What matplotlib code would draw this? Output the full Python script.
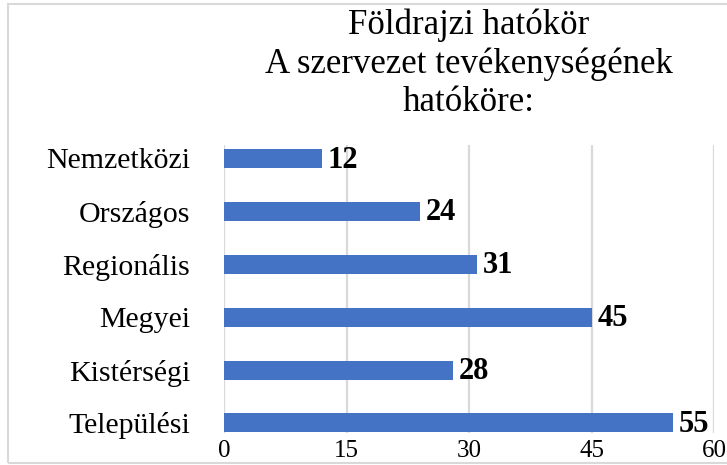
import matplotlib.pyplot as plt
from matplotlib.patches import Rectangle

categories = ['Települési', 'Kistérségi', 'Megyei', 'Regionális', 'Országos', 'Nemzetközi']
values = [55, 28, 45, 31, 24, 12]
xticks = [0, 15, 30, 45, 60]
title = 'Földrajzi hatókör\nA szervezet tevékenységének\nhatóköre:'

plt.rcParams['font.family'] = ['Liberation Serif', 'DejaVu Serif']

fig = plt.figure(figsize=(7.27, 4.65), dpi=100)
ax = fig.add_axes([224 / 727, 32 / 465, 490 / 727, 288 / 465])

ypos = range(len(categories))
ax.barh(ypos, values, height=0.36, color='#4472C4', zorder=3)
for y, v in zip(ypos, values):
    ax.text(v + 0.7, y - 0.03, str(v), va='center', ha='left',
            fontsize=22, fontweight='bold', zorder=4)

ax.set_xlim(0, 60)
ax.set_ylim(-0.19, 5.255)
ax.set_xticks(xticks)
ax.set_yticks(list(ypos))
ax.set_yticklabels(categories, fontsize=21.5)
ax.tick_params(axis='x', labelsize=18, length=0, pad=5)
ax.tick_params(axis='y', length=0, pad=24.5)
ax.grid(axis='x', color='#D9D9D9', linewidth=1.6, zorder=0)
for s in ax.spines.values():
    s.set_visible(False)

fig.text(469 / 727, 1 - 64 / 465, title, ha='center', va='center',
         fontsize=25, linespacing=1.2)

fig.patches.append(Rectangle((8 / 727, 2 / 465), 730 / 727, 459 / 465,
                             transform=fig.transFigure, fill=False,
                             edgecolor='#D9D9D9', linewidth=1.5))

fig.savefig('out.png', dpi=100)
